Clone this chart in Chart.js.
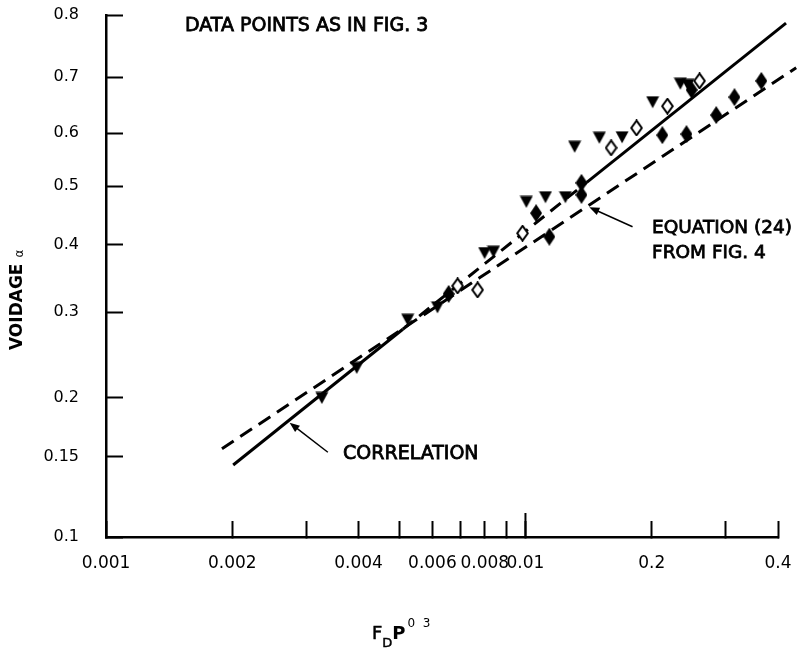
<!DOCTYPE html>
<html>
<head>
<meta charset="utf-8">
<script src="https://cdn.jsdelivr.net/npm/chart.js@4.4.1/dist/chart.umd.min.js"></script>
<style>
html,body{margin:0;padding:0;background:#fff;}
#wrap{width:797px;height:653px;position:relative;}
</style>
</head>
<body>
<div id="wrap"><canvas id="c"></canvas></div>
<script>
// ---------- data ----------
const xTickValues = [0.001, 0.002, 0.003, 0.004, 0.005, 0.006, 0.007, 0.008, 0.009, 0.01, 0.02, 0.03, 0.04];
const xTickLabels = ['0.001', '0.002', '', '0.004', '', '0.006', '', '0.008', '', '0.01', '0.2', '', '0.4'];
const yTickValues = [0.1, 0.15, 0.2, 0.3, 0.4, 0.5, 0.6, 0.7, 0.8];
const yTickLabels = ['0.1', '0.15', '0.2', '0.3', '0.4', '0.5', '0.6', '0.7', '0.8'];
const xMajorTick = 0.01;

// filled down-triangles
const triangleX = [0.00327, 0.00396, 0.00524, 0.00617, 0.00799, 0.00839, 0.01005, 0.01116, 0.01245, 0.0131, 0.0150, 0.0170, 0.0201, 0.0234, 0.0244];
const triangleY = [0.200, 0.235, 0.291, 0.307, 0.388, 0.390, 0.473, 0.481, 0.481, 0.574, 0.591, 0.592, 0.655, 0.688, 0.686];
// open diamonds
const openDiamondX = [0.00689, 0.00769, 0.00984, 0.0160, 0.0184, 0.0218, 0.0260];
const openDiamondY = [0.339, 0.333, 0.420, 0.572, 0.609, 0.648, 0.693];
// filled diamonds
const filledDiamondX = [0.00656, 0.0106, 0.0114, 0.0136, 0.0136, 0.0212, 0.0242, 0.0249, 0.0285, 0.0315, 0.0365];
const filledDiamondY = [0.327, 0.454, 0.414, 0.506, 0.485, 0.596, 0.598, 0.677, 0.632, 0.664, 0.693];
// correlation line (solid, dashed middle part)
const correlationX = [0.00201, 0.00510, 0.0140, 0.0418];
const correlationY = [0.145, 0.280, 0.507, 0.787];
// equation (24) line (dashed)
const equationX = [0.00189, 0.00777, 0.0442];
const equationY = [0.157, 0.351, 0.715];
// annotation arrows (tail -> tip) in data units
const arrowTailX = [0.00338, 0.0180];
const arrowTailY = [0.154, 0.431];
const arrowTipX = [0.00274, 0.0142];
const arrowTipY = [0.179, 0.464];

// ---------- custom piecewise axis (hand-ruled ordinate of the figure) ----------
const Y_STOPS = [0, 0.1533, 0.2663, 0.4310, 0.5594, 0.6724, 0.7739, 0.8812, 1];
function yValueToDecimal(v) {
  const t = yTickValues;
  if (v <= t[0]) return Y_STOPS[0] + (v - t[0]) / (t[1] - t[0]) * (Y_STOPS[1] - Y_STOPS[0]);
  for (let i = 0; i < t.length - 1; i++) {
    if (v <= t[i + 1]) return Y_STOPS[i] + (v - t[i]) / (t[i + 1] - t[i]) * (Y_STOPS[i + 1] - Y_STOPS[i]);
  }
  const n = t.length - 1;
  return Y_STOPS[n] + (v - t[n]) / (t[n] - t[n - 1]) * (Y_STOPS[n] - Y_STOPS[n - 1]);
}
function yDecimalToValue(d) {
  const t = yTickValues;
  for (let i = 0; i < t.length - 1; i++) {
    if (d <= Y_STOPS[i + 1] || i === t.length - 2) {
      return t[i] + (d - Y_STOPS[i]) / (Y_STOPS[i + 1] - Y_STOPS[i]) * (t[i + 1] - t[i]);
    }
  }
}
class PiecewiseScale extends Chart.LinearScale {
  getPixelForValue(value) {
    if (value === null || value === undefined || isNaN(value)) return NaN;
    return this.getPixelForDecimal(yValueToDecimal(value));
  }
  getValueForPixel(pixel) {
    return yDecimalToValue(this.getDecimalForPixel(pixel));
  }
}
PiecewiseScale.id = 'piecewise';
PiecewiseScale.defaults = Chart.LinearScale.defaults;
Chart.register(PiecewiseScale);

// ---------- marker images ----------
function makeMarker(kind) {
  const c = document.createElement('canvas');
  const g = c.getContext('2d');
  if (kind === 'tri') {
    c.width = 14; c.height = 13;
    g.fillStyle = '#000';
    g.beginPath(); g.moveTo(0.5, 0.5); g.lineTo(13.5, 0.5); g.lineTo(7, 12.5); g.closePath(); g.fill();
  } else if (kind === 'dia') {
    c.width = 12; c.height = 18;
    g.fillStyle = '#000';
    g.beginPath(); g.moveTo(6, 0); g.lineTo(12, 9); g.lineTo(6, 18); g.lineTo(0, 9); g.closePath(); g.fill();
  } else {
    c.width = 13; c.height = 17;
    g.fillStyle = '#fff'; g.strokeStyle = '#000'; g.lineWidth = 2;
    g.beginPath(); g.moveTo(6.5, 1.2); g.lineTo(11.8, 8.5); g.lineTo(6.5, 15.8); g.lineTo(1.2, 8.5); g.closePath(); g.fill(); g.stroke();
  }
  return c;
}
const triImg = makeMarker('tri'), diaImg = makeMarker('dia'), openImg = makeMarker('open');

const pts = (xs, ys) => xs.map((v, i) => ({x: v, y: ys[i]}));

// ---------- annotation plugin ----------
const annot = {
  id: 'annot',
  afterDraw(chart) {
    const ctx = chart.ctx;
    const xs = chart.scales.x, ys = chart.scales.y;
    ctx.save();
    // taller major tick at 0.01
    ctx.strokeStyle = '#000'; ctx.lineWidth = 2;
    const mx = xs.getPixelForValue(xMajorTick);
    ctx.beginPath(); ctx.moveTo(mx, xs.top); ctx.lineTo(mx, xs.top - 24); ctx.stroke();
    // arrows
    ctx.strokeStyle = '#000'; ctx.fillStyle = '#000'; ctx.lineWidth = 1.5;
    for (let i = 0; i < arrowTipX.length; i++) {
      const x1 = xs.getPixelForValue(arrowTailX[i]), y1 = ys.getPixelForValue(arrowTailY[i]);
      const x2 = xs.getPixelForValue(arrowTipX[i]), y2 = ys.getPixelForValue(arrowTipY[i]);
      const a = Math.atan2(y2 - y1, x2 - x1);
      ctx.beginPath(); ctx.moveTo(x1, y1); ctx.lineTo(x2 - 6 * Math.cos(a), y2 - 6 * Math.sin(a)); ctx.stroke();
      ctx.beginPath();
      ctx.moveTo(x2, y2);
      ctx.lineTo(x2 - 10 * Math.cos(a) + 4 * Math.sin(a), y2 - 10 * Math.sin(a) - 4 * Math.cos(a));
      ctx.lineTo(x2 - 10 * Math.cos(a) - 4 * Math.sin(a), y2 - 10 * Math.sin(a) + 4 * Math.cos(a));
      ctx.closePath(); ctx.fill();
    }
    // texts
    ctx.textBaseline = 'middle'; ctx.textAlign = 'left';
    ctx.lineWidth = 0.8;
    const txt = (s, x, y, font) => { ctx.font = font; ctx.fillText(s, x, y); ctx.strokeText(s, x, y); };
    txt('DATA POINTS AS IN FIG. 3', 185, 26, '19px "DejaVu Sans"');
    txt('EQUATION (24)', 652, 228, '18.5px "DejaVu Sans"');
    txt('FROM FIG. 4', 652, 253, '18.5px "DejaVu Sans"');
    txt('CORRELATION', 343, 454, '19px "DejaVu Sans"');
    // x-axis title F_D P^0 3
    ctx.textBaseline = 'alphabetic';
    ctx.lineWidth = 0.5;
    let px = 372;
    ctx.font = '18px "DejaVu Sans"'; ctx.fillText('F', px, 639); ctx.strokeText('F', px, 639); px += ctx.measureText('F').width;
    ctx.font = '13px "DejaVu Sans"'; ctx.fillText('D', px, 647); ctx.strokeText('D', px, 647); px += ctx.measureText('D').width;
    ctx.font = 'bold 18px "DejaVu Sans"'; ctx.fillText('P', px, 639); px += ctx.measureText('P').width + 2;
    ctx.font = '12px "DejaVu Sans"'; ctx.fillText('0  3', px, 627);
    // y-axis title
    ctx.save();
    ctx.translate(18, 350);
    ctx.rotate(-Math.PI / 2);
    ctx.textBaseline = 'middle';
    ctx.font = 'bold 17px "DejaVu Sans"';
    ctx.fillText('VOIDAGE', 0, 0);
    const w = ctx.measureText('VOIDAGE ').width;
    ctx.font = '12px "DejaVu Sans"';
    ctx.fillText('α', w, 2);
    ctx.restore();
    ctx.restore();
  }
};

const noPad = s => { s.paddingTop = 0; s.paddingBottom = 0; s.paddingLeft = 0; s.paddingRight = 0; };

new Chart(document.getElementById('c'), {
  type: 'scatter',
  data: {
    datasets: [
      {
        label: 'Correlation', type: 'line', data: pts(correlationX, correlationY),
        borderColor: '#000', borderWidth: 3, pointRadius: 0, fill: false, tension: 0, clip: false, order: 3,
        segment: { borderDash: c => (c.p0DataIndex === 1 ? [13, 8] : undefined) }
      },
      {
        label: 'Equation (24)', type: 'line', data: pts(equationX, equationY),
        borderColor: '#000', borderWidth: 3, borderDash: [14, 8], pointRadius: 0, fill: false, tension: 0, clip: false, order: 3
      },
      { label: 'Triangles', data: pts(triangleX, triangleY), pointStyle: triImg, pointRadius: 7, order: 1, clip: false },
      { label: 'Filled diamonds', data: pts(filledDiamondX, filledDiamondY), pointStyle: diaImg, pointRadius: 7, order: 1, clip: false },
      { label: 'Open diamonds', data: pts(openDiamondX, openDiamondY), pointStyle: openImg, pointRadius: 7, order: 0, clip: false }
    ]
  },
  options: {
    responsive: true,
    maintainAspectRatio: false,
    animation: false,
    events: [],
    layout: { padding: { top: 15, right: 19, left: 0, bottom: 0 } },
    plugins: { legend: { display: false }, tooltip: { enabled: false }, title: { display: false } },
    scales: {
      x: {
        type: 'logarithmic',
        min: 0.001, max: 0.04,
        afterBuildTicks: s => { s.ticks = xTickValues.map(v => ({ value: v })); },
        afterFit: s => { s.height = 116; noPad(s); },
        border: { display: true, color: '#000', width: 2.5 },
        grid: { display: true, drawOnChartArea: false, drawTicks: true, tickLength: -16, tickColor: '#000', tickWidth: 2 },
        ticks: {
          autoSkip: false, maxRotation: 0, minRotation: 0, padding: 32, color: '#000',
          font: { family: '"DejaVu Sans"', size: 17 },
          callback: (v, i) => xTickLabels[i]
        }
      },
      y: {
        type: 'piecewise',
        min: 0.1, max: 0.8,
        afterBuildTicks: s => { s.ticks = yTickValues.map(v => ({ value: v })); },
        afterFit: s => { s.width = 106; noPad(s); },
        border: { display: true, color: '#000', width: 2.5 },
        grid: { display: true, drawOnChartArea: false, drawTicks: true, tickLength: -17, tickColor: '#000', tickWidth: 2 },
        ticks: {
          autoSkip: false, padding: 44, color: '#000',
          font: { family: '"DejaVu Sans"', size: 16 },
          callback: (v, i) => yTickLabels[i]
        }
      }
    }
  },
  plugins: [annot]
});
</script>
</body>
</html>
